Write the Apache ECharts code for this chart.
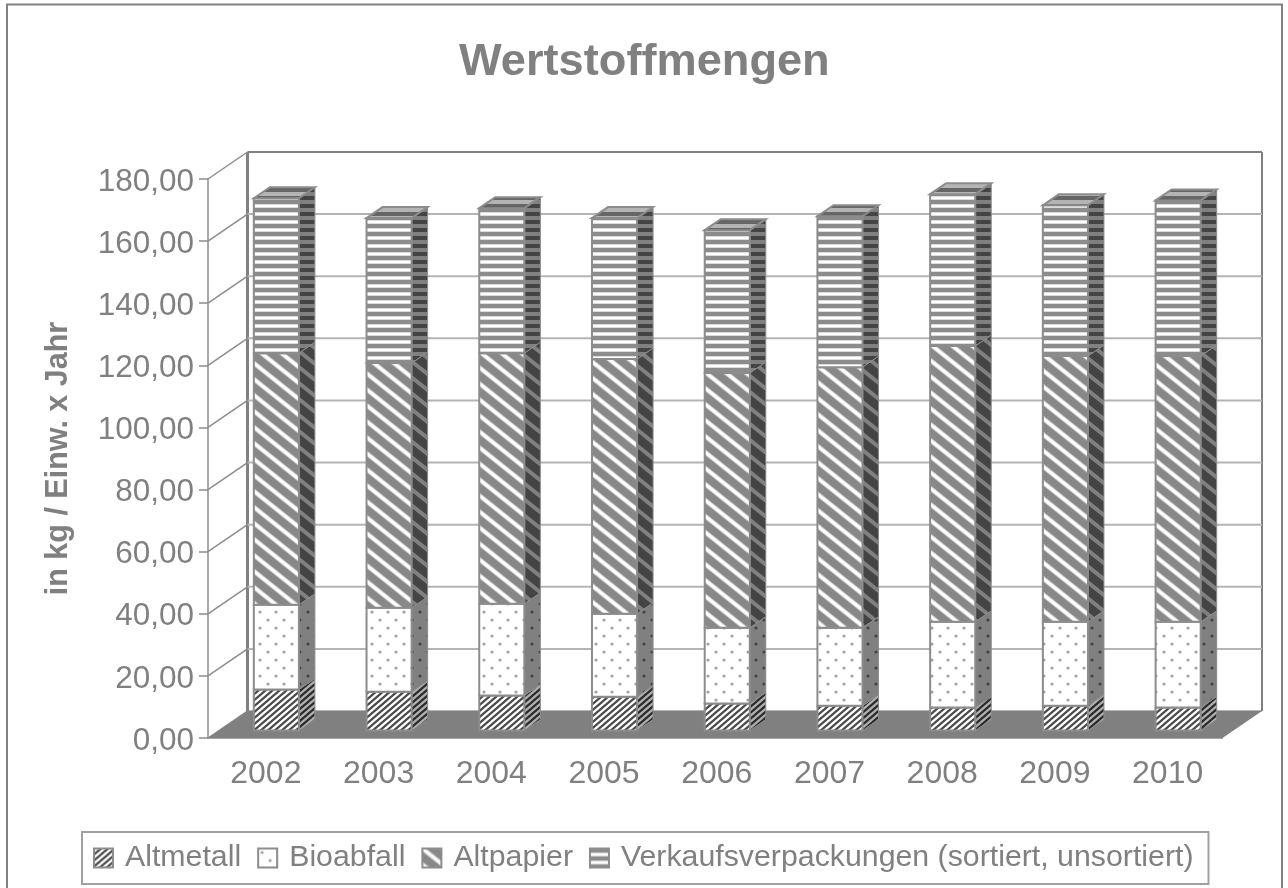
<!DOCTYPE html>
<html>
<head>
<meta charset="utf-8">
<title>Wertstoffmengen</title>
<script src="https://cdn.jsdelivr.net/npm/echarts@6/dist/echarts.min.js"></script>
<style>
  html, body { margin: 0; padding: 0; background: #fff; }
  #main { width: 1288px; height: 888px; }
</style>
</head>
<body>
<div id="main"></div>
<script>
var years = ['2002', '2003', '2004', '2005', '2006', '2007', '2008', '2009', '2010'];
var altmetall = [13.2, 12.5, 11.3, 10.9, 8.7, 8.0, 7.4, 8.0, 7.4];
var bioabfall = [27.3, 27.0, 29.5, 26.7, 24.4, 25.1, 27.6, 27.0, 27.6];
var altpapier = [81.0, 78.8, 80.7, 82.0, 82.0, 83.9, 88.8, 85.6, 85.6];
var verkauf = [49.9, 46.7, 46.7, 45.4, 46.0, 48.6, 48.9, 48.5, 50.1];
var valueTicks = [0, 20, 40, 60, 80, 100, 120, 140, 160, 180];

var GRAY = '#808080';
var LINE = '#8c8c8c';
var GRID = '#b4b4b4';
var FONT = '"Liberation Sans", Arial, sans-serif';

// pseudo 3d depth, in pixels
var WALL_DX = 39.5, WALL_DY = -27;
var BAR_DX = 12, BAR_DY = -7.5;
var SIDE_DX = 16, SIDE_DY = -11;

// canvas tiles for the hatch fills
function tile (w, h, draw) {
  var c = document.createElement('canvas');
  c.width = w;
  c.height = h;
  draw(c.getContext('2d'), w, h);
  return { image: c, repeat: 'repeat' };
}
function stripes (rows) {
  return tile(8, rows.length, function (g, w) {
    rows.forEach(function (color, i) {
      g.fillStyle = color;
      g.fillRect(0, i, w, 1);
    });
  });
}
// passes: list of [color, lineWidth], drawn in order
function diagonal (bg, passes, w, h, down) {
  return tile(w, h, function (g) {
    g.fillStyle = bg;
    g.fillRect(0, 0, w, h);
    passes.forEach(function (pass) {
      g.strokeStyle = pass[0];
      g.lineWidth = pass[1];
      for (var i = -2; i <= 2; i++) {
        g.beginPath();
        if (down) {
          g.moveTo(i * w - w, -h);
          g.lineTo(i * w + 2 * w, 2 * h);
        } else {
          g.moveTo(i * w - w, 2 * h);
          g.lineTo(i * w + 2 * w, -h);
        }
        g.stroke();
      }
    });
  });
}
function dots (bg, fg) {
  return tile(16, 16, function (g) {
    g.fillStyle = bg;
    g.fillRect(0, 0, 16, 16);
    g.fillStyle = fg;
    [[4, 4], [12, 12]].forEach(function (p) {
      g.beginPath();
      g.arc(p[0], p[1], 1.6, 0, Math.PI * 2);
      g.fill();
    });
  });
}

var fills = {
  Altmetall: {
    front: diagonal('#fff', [['#4a4a4a', 2.2]], 7, 6, false),
    side: diagonal('#b0b0b0', [['#2a2a2a', 2.2]], 7, 6, false)
  },
  Bioabfall: { front: dots('#fff', '#a0a0a0'), side: dots(GRAY, '#444') },
  Altpapier: {
    front: diagonal('#888', [['#c4c4c4', 5], ['#fff', 3]], 20, 16, true),
    side: diagonal('#444', [['#808080', 4]], 20, 16, true)
  },
  Verkauf: {
    front: stripes(['#8c8c8c', '#8c8c8c', '#8c8c8c', '#8c8c8c', '#dcdcdc', '#fff', '#fff', '#dcdcdc']),
    side: stripes(['#808080', '#808080', '#808080', '#808080', '#444', '#444', '#444', '#444']),
    top: stripes(['#b4b4b4', '#b4b4b4', '#b4b4b4', '#b4b4b4', '#666', '#666', '#666', '#666'])
  }
};

function barSeries (name, fill, values, below) {
  var data = values.map(function (v, i) {
    var base = 0;
    below.forEach(function (arr) { base += arr[i]; });
    return [i, base, base + v];
  });
  return {
    name: name,
    type: 'custom',
    coordinateSystem: 'cartesian2d',
    itemStyle: { color: fill.front, borderColor: LINE, borderWidth: 2 },
    encode: { x: 0, y: [1, 2] },
    data: data,
    renderItem: function (params, api) {
      var cat = api.value(0);
      var low = api.coord([cat, api.value(1)]);
      var high = api.coord([cat, api.value(2)]);
      var w = api.size([1, 0])[0] * 0.4;
      var x0 = low[0] + BAR_DX - w / 2;
      var x1 = x0 + w;
      var y0 = low[1] + BAR_DY;
      var y1 = high[1] + BAR_DY;
      var children = [
        {
          type: 'polygon',
          shape: { points: [[x1, y0], [x1 + SIDE_DX, y0 + SIDE_DY], [x1 + SIDE_DX, y1 + SIDE_DY], [x1, y1]] },
          style: { fill: fill.side, stroke: LINE, lineWidth: 1 }
        },
        {
          type: 'rect',
          shape: { x: x0, y: y1, width: w, height: y0 - y1 },
          style: { fill: fill.front, stroke: LINE, lineWidth: 2 }
        }
      ];
      if (fill.top) {
        children.push({
          type: 'polygon',
          shape: { points: [[x0, y1], [x0 + SIDE_DX, y1 + SIDE_DY], [x1 + SIDE_DX, y1 + SIDE_DY], [x1, y1]] },
          style: { fill: fill.top, stroke: LINE, lineWidth: 2 }
        });
      }
      return { type: 'group', children: children };
    }
  };
}

// walls and floor, hung on the value axis
var wallSeries = {
  name: 'walls',
  type: 'custom',
  coordinateSystem: 'cartesian2d',
  silent: true,
  z: 1,
  encode: { y: 1 },
  data: valueTicks.map(function (v) { return [0, v]; }),
  renderItem: function (params, api) {
    var cs = params.coordSys;
    var v = api.value(1);
    var y = api.coord([0, v])[1];
    var left = cs.x, right = cs.x + cs.width;
    var backY = y + WALL_DY;
    var isTop = v === valueTicks[valueTicks.length - 1];
    var children = [
      {
        type: 'line',
        shape: { x1: left + WALL_DX, y1: backY, x2: right + WALL_DX, y2: backY },
        style: { stroke: isTop ? GRAY : GRID, lineWidth: 2 }
      },
      {
        type: 'line',
        shape: { x1: left, y1: y, x2: left + WALL_DX, y2: backY },
        style: { stroke: LINE, lineWidth: 1.5 }
      }
    ];
    if (v === 0) {
      children.push({
        type: 'line',
        shape: { x1: left + WALL_DX, y1: cs.y + WALL_DY, x2: left + WALL_DX, y2: backY },
        style: { stroke: GRAY, lineWidth: 3 }
      }, {
        type: 'line',
        shape: { x1: right + WALL_DX, y1: cs.y + WALL_DY, x2: right + WALL_DX, y2: backY },
        style: { stroke: GRAY, lineWidth: 2 }
      }, {
        type: 'polygon',
        shape: { points: [[left, y], [left + WALL_DX, backY], [right + WALL_DX, backY], [right, y]] },
        style: { fill: GRAY }
      });
    }
    return { type: 'group', children: children };
  }
};

var myChart = echarts.init(document.getElementById('main'));
var option = {
  animation: false,
  backgroundColor: '#fff',
  textStyle: { fontFamily: FONT },
  title: {
    text: 'Wertstoffmengen',
    left: 454,
    top: 35,
    textStyle: { color: GRAY, fontSize: 45.2, fontWeight: 'bold', fontFamily: FONT }
  },
  legend: {
    data: ['Altmetall', 'Bioabfall', 'Altpapier', 'Verkaufsverpackungen (sortiert, unsortiert)'],
    icon: 'rect',
    left: 82,
    top: 832,
    padding: [11, 15, 11, 11],
    itemGap: 16,
    itemWidth: 19,
    itemHeight: 19,
    borderColor: '#a0a0a0',
    borderWidth: 2,
    selectedMode: false,
    textStyle: { color: GRAY, fontSize: 30.3, fontFamily: FONT, padding: [0, 0, 0, 7] }
  },
  grid: { left: 208, right: 65.5, top: 179, bottom: 150 },
  xAxis: {
    type: 'category',
    data: years,
    axisLine: { lineStyle: { color: LINE, width: 1.5 } },
    axisTick: { length: 9, lineStyle: { color: LINE, width: 1.5 } },
    axisLabel: { color: GRAY, fontSize: 32, margin: 20, padding: [0, 0, 0, 3], fontFamily: FONT }
  },
  yAxis: {
    type: 'value',
    min: 0,
    max: 180,
    interval: 20,
    name: 'in kg / Einw. x Jahr',
    nameLocation: 'middle',
    nameRotate: 90,
    nameGap: 134,
    nameTextStyle: { color: GRAY, fontSize: 30.5, fontWeight: 'bold', fontFamily: FONT },
    splitLine: { show: false },
    axisLine: { show: true, lineStyle: { color: LINE, width: 1.5 } },
    axisTick: { show: true, length: 9, lineStyle: { color: LINE, width: 1.5 } },
    axisLabel: {
      color: GRAY,
      fontSize: 31.5,
      margin: 14,
      verticalAlign: 'top',
      lineHeight: 6,
      fontFamily: FONT,
      formatter: function (v) { return v.toFixed(2).replace('.', ','); }
    }
  },
  // outer chart frame, runs off the bottom of the picture
  graphic: [{
    type: 'rect',
    silent: true,
    z: -1,
    shape: { x: 7, y: 4.5, width: 1275, height: 900 },
    style: { fill: 'none', stroke: GRAY, lineWidth: 2 }
  }],
  series: [
    wallSeries,
    barSeries('Altmetall', fills.Altmetall, altmetall, []),
    barSeries('Bioabfall', fills.Bioabfall, bioabfall, [altmetall]),
    barSeries('Altpapier', fills.Altpapier, altpapier, [altmetall, bioabfall]),
    barSeries('Verkaufsverpackungen (sortiert, unsortiert)', fills.Verkauf, verkauf, [altmetall, bioabfall, altpapier])
  ]
};
myChart.setOption(option);
</script>
</body>
</html>
